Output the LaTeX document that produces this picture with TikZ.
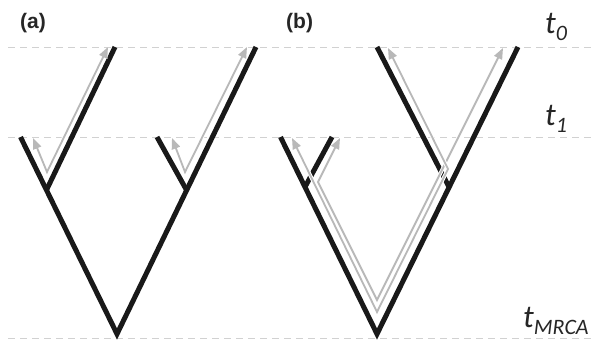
\documentclass[tikz,border=0pt]{standalone}
\usepackage{fontspec}
\setmainfont{Liberation Sans}
\newfontfamily\timefont{Carlito}
\usepackage{tikz}
\usetikzlibrary{arrows.meta}
\newcommand{\timelabel}[4]{% name,x,y,subscript
  \node[anchor=base west, inner sep=0pt, text=black!85] (#1) at (#2,#3)
    {\timefont\itshape\fontsize{32}{32}\selectfont t\raisebox{-7pt}{\fontsize{22}{22}\selectfont #4}};
}

\begin{document}
\begin{tikzpicture}[x=1pt,y=-1pt,
  branch/.style={line width=5pt, draw=black!90, line join=miter},
  lineage/.style={line width=1.8pt, draw=black!28, {Triangle[length=11pt,width=8.5pt,fill=black!28]}-{Triangle[length=11pt,width=8.5pt,fill=black!28]}, preaction={draw=white, line width=3.8pt}},
  timeline/.style={line width=1pt, draw=black!18, dash pattern=on 7pt off 5pt},
  panel/.style={anchor=base west, inner sep=0pt, font=\fontsize{21}{21}\selectfont\bfseries, text=black!85}]

\useasboundingbox (0,0) rectangle (595,340);

% time levels
\foreach \y in {47.5,137,338} {
  \draw[timeline] (8,\y) -- (595,\y);
}

% panel (a): tree
\coordinate (aroot) at (117,334);
\coordinate (atipA) at (20.5,137);
\coordinate (atipB) at (115,47);
\coordinate (atipC) at (157,137);
\coordinate (atipD) at (256,47);
\coordinate (anodeL) at (46.5,190);
\coordinate (anodeR) at (186.5,190);
\draw[branch] (atipA) -- (aroot) -- (atipD);
\draw[branch] (anodeL) -- (atipB);
\draw[branch] (anodeR) -- (atipC);

% panel (a): lineages
\draw[lineage] (33,138) -- (47,172) -- (108,47);
\draw[lineage] (172,138) -- (185,172) -- (247,47);

% panel (b): tree
\coordinate (broot) at (377,334);
\coordinate (btipA) at (280.5,137);
\coordinate (btipB) at (332,137);
\coordinate (btipC) at (377,47);
\coordinate (btipD) at (518,47);
\coordinate (bnodeL) at (305,187);
\coordinate (bnodeR) at (449,187);
\draw[branch] (btipA) -- (broot) -- (btipD);
\draw[branch] (bnodeL) -- (btipB);
\draw[branch] (bnodeR) -- (btipC);

% panel (b): lineages
\draw[lineage] (340,138) -- (318,182) -- (377,300) -- (503,48);
\draw[lineage] (292,138) -- (377,312) -- (448,169) -- (388,48);

% labels
\node[panel] (pa) at (20,28) {(a)};
\node[panel] (pb) at (286,28) {(b)};
\timelabel{tzero}{545}{33}{0}
\timelabel{tone}{545}{125}{1}
\timelabel{tmrca}{523}{327}{MRCA}

\end{tikzpicture}
\end{document}
